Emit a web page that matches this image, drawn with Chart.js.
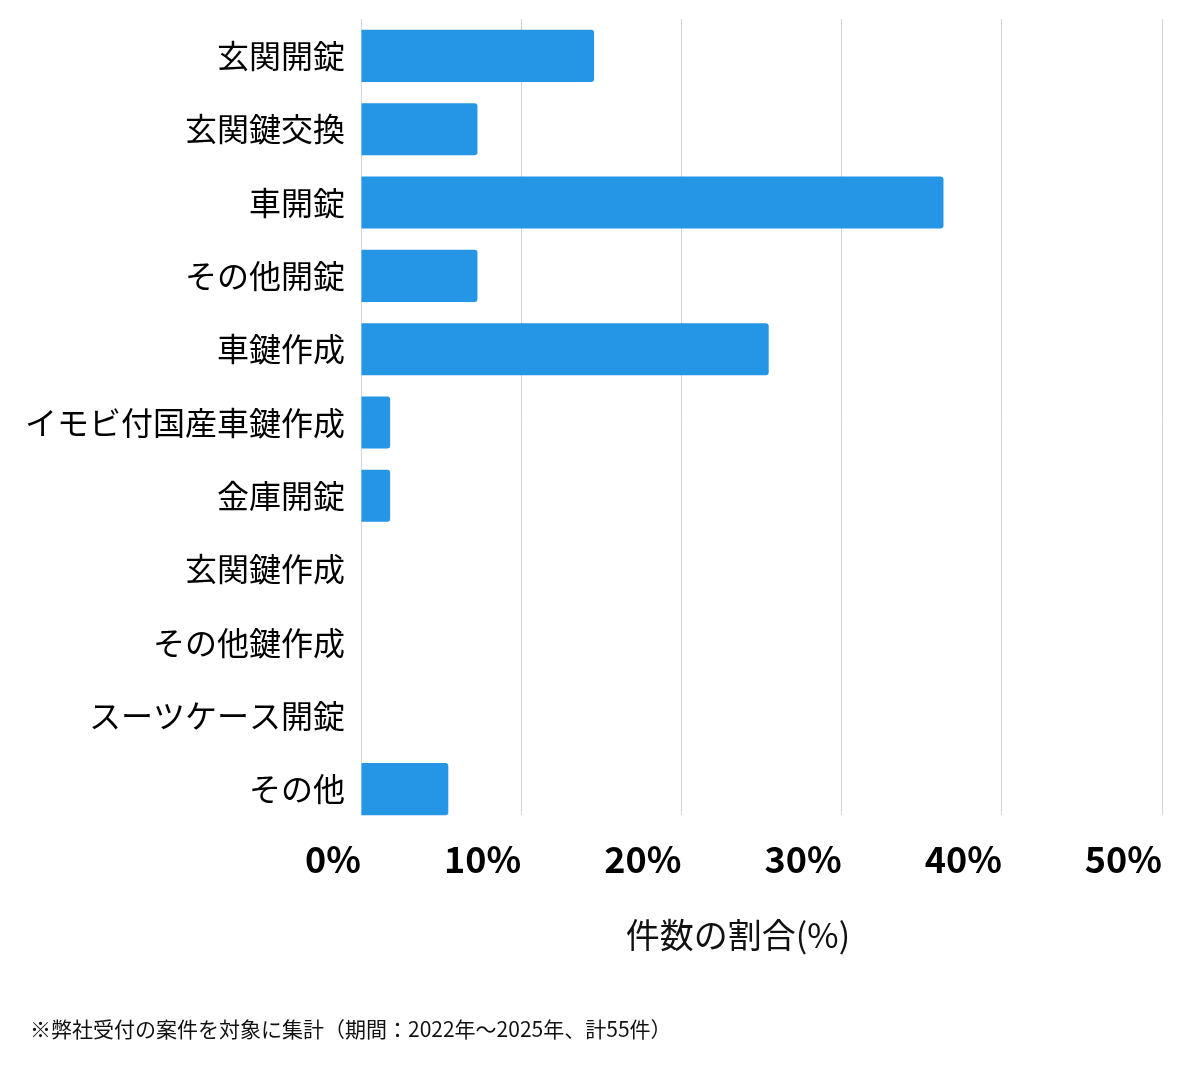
<!DOCTYPE html>
<html>
<head>
<meta charset="utf-8">
<script src="https://cdn.jsdelivr.net/npm/chart.js@4"></script>
<style>
  body { margin: 0; background: #fff; }
  #wrap { position: relative; width: 1200px; height: 1069px; }
  #note { position: absolute; left: 30px; top: 1013px; font: 21px "Noto Sans CJK JP", sans-serif; color: #111; white-space: nowrap; }
</style>
</head>
<body>
<div id="wrap">
  <canvas id="chart"></canvas>
  <div id="note">※弊社受付の案件を対象に集計（期間：2022年～2025年、計55件）</div>
</div>
<script>
// categories and shares (% of 55 cases)
const categories = ['玄関開錠', '玄関鍵交換', '車開錠', 'その他開錠', '車鍵作成', 'イモビ付国産車鍵作成', '金庫開錠', '玄関鍵作成', 'その他鍵作成', 'スーツケース開錠', 'その他'];
const shares = [14.55, 7.27, 36.36, 7.27, 25.45, 1.82, 1.82, 0, 0, 0, 5.45];
const xTicks = [0, 10, 20, 30, 40, 50];
const axisTitle = '件数の割合(%)';

const font = '"Noto Sans CJK JP", "Noto Sans", sans-serif';

// in the original the grid lines stop level with the bottom of the last bar
const gridTrim = {
    id: 'gridTrim',
    beforeDatasetsDraw(chart) {
        const { ctx, chartArea: a } = chart;
        ctx.save();
        ctx.fillStyle = '#fff';
        ctx.fillRect(a.left - 1, a.bottom - 11, a.right - a.left + 2, 12);
        ctx.restore();
    }
};

// x axis title sits a bit left of the plot centre in the original, so draw it ourselves
const axisTitlePlugin = {
    id: 'axisTitle',
    afterDraw(chart) {
        const ctx = chart.ctx;
        ctx.save();
        ctx.font = '34px ' + font;
        ctx.fillStyle = '#111';
        ctx.textAlign = 'center';
        ctx.textBaseline = 'middle';
        ctx.fillText(axisTitle, 738, 935);
        ctx.restore();
    }
};

new Chart(document.getElementById('chart'), {
    type: 'bar',
    data: {
        labels: categories,
        datasets: [{
            data: shares,
            backgroundColor: '#2595e5',
            borderRadius: 3,
            borderSkipped: 'start',
            categoryPercentage: 1,
            barPercentage: 0.71
        }]
    },
    options: {
        indexAxis: 'y',
        responsive: true,
        maintainAspectRatio: false,
        animation: false,
        layout: { padding: { top: 0, right: 38, bottom: 176, left: 0 } },
        plugins: {
            legend: { display: false },
            tooltip: { enabled: false }
        },
        scales: {
            x: {
                min: 0,
                max: 50,
                afterBuildTicks: s => { s.ticks = xTicks.map(v => ({ value: v })); },
                grid: { color: '#d4d4d4', lineWidth: 1, drawTicks: false },
                border: { display: false },
                ticks: {
                    align: 'end',
                    padding: 12,
                    color: '#000',
                    font: { family: font, size: 36, weight: 'bold' },
                    callback: v => v + '%'
                }
            },
            y: {
                afterFit: s => { s.width = 361; },
                grid: { color: 'rgba(0,0,0,0)', drawOnChartArea: false, drawTicks: true, tickLength: 16 },
                border: { display: false },
                ticks: {
                    padding: 0,
                    color: '#000',
                    font: { family: font, size: 32 }
                }
            }
        }
    },
    plugins: [gridTrim, axisTitlePlugin]
});
</script>
</body>
</html>
